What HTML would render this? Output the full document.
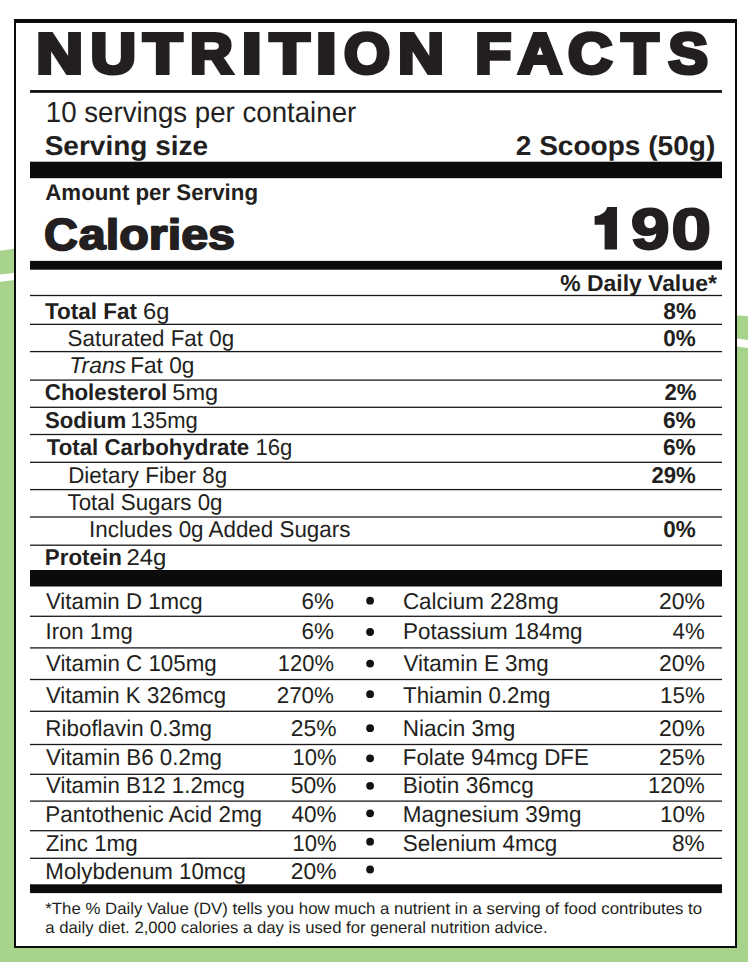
<!DOCTYPE html>
<html><head><meta charset="utf-8"><title>Nutrition Facts</title>
<style>
html,body{margin:0;padding:0;background:#fff;}
body{width:748px;height:962px;overflow:hidden;position:relative;font-family:"Liberation Sans",sans-serif;}
svg{position:absolute;left:0;top:0;}
</style></head><body>
<svg width="748" height="962" viewBox="0 0 748 962">
<polygon fill="#a8d38d" points="0,250.65 14,248.8 14,273 0,274.6"/>
<polygon fill="#a8d38d" points="0,281.8 14,280 14,962 0,962"/>
<polygon fill="#a8d38d" points="737,315.3 748,316.2 748,340 737,338.6"/>
<polygon fill="#a8d38d" points="737,346.6 748,348 748,962 737,962"/>
<rect x="0" y="947" width="748" height="15" fill="#a8d38d"/>
<rect x="14" y="19" width="723" height="929" fill="#0b0b0b"/>
<rect x="16" y="23" width="719" height="923" fill="#fff"/>
<rect x="30" y="90.1" width="692" height="2.7" fill="#0b0b0b"/><rect x="30" y="161.7" width="692" height="16.5" fill="#0b0b0b"/><rect x="30" y="260.9" width="692" height="8.8" fill="#0b0b0b"/><rect x="30" y="294.85" width="692" height="1.3" fill="#1c191a"/><rect x="30" y="323.70000000000005" width="692" height="1.3" fill="#1c191a"/><rect x="30" y="350.95000000000005" width="692" height="1.3" fill="#1c191a"/><rect x="30" y="379.45000000000005" width="692" height="1.3" fill="#1c191a"/><rect x="30" y="406.65000000000003" width="692" height="1.3" fill="#1c191a"/><rect x="30" y="433.85" width="692" height="1.3" fill="#1c191a"/><rect x="30" y="461.65000000000003" width="692" height="1.3" fill="#1c191a"/><rect x="30" y="488.95000000000005" width="692" height="1.3" fill="#1c191a"/><rect x="30" y="516.35" width="692" height="1.3" fill="#1c191a"/><rect x="30" y="544.5500000000001" width="692" height="1.3" fill="#1c191a"/><rect x="30" y="570" width="692" height="16.5" fill="#0b0b0b"/><rect x="30" y="615.65" width="692" height="1.3" fill="#1c191a"/><rect x="30" y="647.25" width="692" height="1.3" fill="#1c191a"/><rect x="30" y="678.85" width="692" height="1.3" fill="#1c191a"/><rect x="30" y="710.65" width="692" height="1.3" fill="#1c191a"/><rect x="30" y="743.85" width="692" height="1.3" fill="#1c191a"/><rect x="30" y="773.65" width="692" height="1.3" fill="#1c191a"/><rect x="30" y="800.45" width="692" height="1.3" fill="#1c191a"/><rect x="30" y="830.0500000000001" width="692" height="1.3" fill="#1c191a"/><rect x="30" y="857.65" width="692" height="1.3" fill="#1c191a"/><rect x="30" y="884.3" width="692" height="8.8" fill="#0b0b0b"/><circle cx="370.1" cy="600.7" r="3.9" fill="#141213"/><circle cx="370.1" cy="632.0" r="3.9" fill="#141213"/><circle cx="370.1" cy="663.6" r="3.9" fill="#141213"/><circle cx="370.1" cy="694.2" r="3.9" fill="#141213"/><circle cx="370.1" cy="728.2" r="3.9" fill="#141213"/><circle cx="370.1" cy="758.3" r="3.9" fill="#141213"/><circle cx="370.1" cy="785.8" r="3.9" fill="#141213"/><circle cx="370.1" cy="813.3" r="3.9" fill="#141213"/><circle cx="370.1" cy="841.7" r="3.9" fill="#141213"/><circle cx="370.1" cy="869.5" r="3.9" fill="#141213"/>
<path fill="#231f20" d="M607.3,207.1 L617,207.1 L617,249.6 L604.6,249.6 L604.6,224.7 L594.6,224.7 L594.6,216.3 Q605,215 607.3,207.1 Z"/>
<g font-family="Liberation Sans" fill="#231f20" text-rendering="geometricPrecision">
<text transform="translate(36.32 72.9) scale(1.1405 1)" font-size="56.8" font-weight="700" stroke="#231f20" stroke-width="4" stroke-linejoin="miter" stroke-miterlimit="3">N</text>
<text transform="translate(90.42 72.9) scale(1.1097 1)" font-size="56.8" font-weight="700" stroke="#231f20" stroke-width="4" stroke-linejoin="miter" stroke-miterlimit="3">U</text>
<text transform="translate(143.32 72.9) scale(1.1216 1)" font-size="56.8" font-weight="700" stroke="#231f20" stroke-width="4" stroke-linejoin="miter" stroke-miterlimit="3">T</text>
<text transform="translate(189.91 72.9) scale(1.0441 1)" font-size="56.8" font-weight="700" stroke="#231f20" stroke-width="4" stroke-linejoin="miter" stroke-miterlimit="3">R</text>
<text transform="translate(241.66 72.9) scale(1.2687 1)" font-size="56.8" font-weight="700" stroke="#231f20" stroke-width="4" stroke-linejoin="miter" stroke-miterlimit="3">I</text>
<text transform="translate(269.75 72.9) scale(1.1457 1)" font-size="56.8" font-weight="700" stroke="#231f20" stroke-width="4" stroke-linejoin="miter" stroke-miterlimit="3">T</text>
<text transform="translate(315.83 72.9) scale(1.3355 1)" font-size="56.8" font-weight="700" stroke="#231f20" stroke-width="4" stroke-linejoin="miter" stroke-miterlimit="3">I</text>
<text transform="translate(344.02 72.9) scale(1.0422 1)" font-size="56.8" font-weight="700" stroke="#231f20" stroke-width="4" stroke-linejoin="miter" stroke-miterlimit="3">O</text>
<text transform="translate(398.06 72.9) scale(1.1216 1)" font-size="56.8" font-weight="700" stroke="#231f20" stroke-width="4" stroke-linejoin="miter" stroke-miterlimit="3">N</text>
<text transform="translate(475.32 72.9) scale(1.0400 1)" font-size="56.8" font-weight="700" stroke="#231f20" stroke-width="4" stroke-linejoin="miter" stroke-miterlimit="3">F</text>
<text transform="translate(518.05 72.9) scale(1.0702 1)" font-size="56.8" font-weight="700" stroke="#231f20" stroke-width="4" stroke-linejoin="miter" stroke-miterlimit="3">A</text>
<text transform="translate(567.91 72.9) scale(1.0769 1)" font-size="56.8" font-weight="700" stroke="#231f20" stroke-width="4" stroke-linejoin="miter" stroke-miterlimit="3">C</text>
<text transform="translate(621.45 72.9) scale(1.0654 1)" font-size="56.8" font-weight="700" stroke="#231f20" stroke-width="4" stroke-linejoin="miter" stroke-miterlimit="3">T</text>
<text transform="translate(668.47 72.9) scale(1.0401 1)" font-size="56.8" font-weight="700" stroke="#231f20" stroke-width="4" stroke-linejoin="miter" stroke-miterlimit="3">S</text>
<text transform="translate(45.82 122.4) scale(0.9532 1)" font-size="29">10 servings per container</text>
<text transform="translate(44.70 154.5) scale(1.0298 1)" font-size="27.2" font-weight="700">Serving size</text>
<text transform="translate(515.78 154.5) scale(1.0315 1)" font-size="27.2" font-weight="700">2 Scoops (50g)</text>
<text transform="translate(45.28 200) scale(0.9810 1)" font-size="22.7" font-weight="700">Amount per Serving</text>
<text transform="translate(44.04 249.9) scale(1.0435 1)" font-size="45" font-weight="700" stroke="#231f20" stroke-width="1.8" stroke-linejoin="round" stroke-miterlimit="3">C</text>
<text transform="translate(78.83 249.4) scale(1.1427 1)" font-size="42.4" font-weight="700" stroke="#231f20" stroke-width="1.8" stroke-linejoin="round" stroke-miterlimit="3">alories</text>
<text transform="translate(630.69 248.7) scale(1.2067 1)" font-size="58.2" font-weight="700" stroke="#231f20" stroke-width="2.0" stroke-linejoin="miter" stroke-miterlimit="3">9</text>
<text transform="translate(671.16 248.7) scale(1.2334 1)" font-size="58.2" font-weight="700" stroke="#231f20" stroke-width="2.0" stroke-linejoin="miter" stroke-miterlimit="3">0</text>
<text transform="translate(560.28 291) scale(0.9958 1)" font-size="23" font-weight="700">% Daily Value*</text>
<text transform="translate(44.99 318.75) scale(0.9825 1)" font-size="22.9" font-weight="700">Total Fat</text>
<text transform="translate(143.01 318.75) scale(1.0369 1)" font-size="22.9">6g</text>
<text transform="translate(663.26 318.75) scale(0.9929 1)" font-size="22.9" font-weight="700">8%</text>
<text transform="translate(67.61 345.5) scale(0.9762 1)" font-size="22.9">Saturated Fat 0g</text>
<text transform="translate(663.33 345.5) scale(0.9814 1)" font-size="22.9" font-weight="700">0%</text>
<text transform="translate(69.36 372.7) scale(0.9964 1)" font-size="22.9" font-style="italic">Trans</text>
<text transform="translate(130.14 372.7) scale(0.9893 1)" font-size="22.9">Fat 0g</text>
<text transform="translate(44.81 399.9) scale(0.9723 1)" font-size="22.9" font-weight="700">Cholesterol</text>
<text transform="translate(172.31 399.9) scale(1.0298 1)" font-size="22.9">5mg</text>
<text transform="translate(664.49 399.9) scale(0.9674 1)" font-size="22.9" font-weight="700">2%</text>
<text transform="translate(44.88 427.5) scale(0.9709 1)" font-size="22.9" font-weight="700">Sodium</text>
<text transform="translate(130.52 427.5) scale(0.9611 1)" font-size="22.9">135mg</text>
<text transform="translate(662.95 427.5) scale(0.9930 1)" font-size="22.9" font-weight="700">6%</text>
<text transform="translate(46.69 454.5) scale(0.9731 1)" font-size="22.9" font-weight="700">Total Carbohydrate</text>
<text transform="translate(255.52 454.5) scale(0.9647 1)" font-size="22.9">16g</text>
<text transform="translate(662.95 454.5) scale(0.9930 1)" font-size="22.9" font-weight="700">6%</text>
<text transform="translate(68.22 483.0) scale(0.9764 1)" font-size="22.9">Dietary Fiber 8g</text>
<text transform="translate(651.39 483.0) scale(0.9687 1)" font-size="22.9" font-weight="700">29%</text>
<text transform="translate(67.48 509.5) scale(0.9745 1)" font-size="22.9">Total Sugars 0g</text>
<text transform="translate(89.04 537.0) scale(0.9779 1)" font-size="22.9">Includes 0g Added Sugars</text>
<text transform="translate(663.33 537.0) scale(0.9814 1)" font-size="22.9" font-weight="700">0%</text>
<text transform="translate(44.87 564.9) scale(0.9757 1)" font-size="22.9" font-weight="700">Protein</text>
<text transform="translate(126.39 564.9) scale(1.0469 1)" font-size="22.9">24g</text>
<text transform="translate(45.92 608.5) scale(0.9725 1)" font-size="22.9">Vitamin D 1mcg</text>
<text transform="translate(301.48 608.5) scale(0.9803 1)" font-size="22.9">6%</text>
<text transform="translate(45.56 638.7) scale(0.9657 1)" font-size="22.9">Iron 1mg</text>
<text transform="translate(301.48 638.7) scale(0.9803 1)" font-size="22.9">6%</text>
<text transform="translate(45.92 670.6) scale(0.9747 1)" font-size="22.9">Vitamin C 105mg</text>
<text transform="translate(277.83 670.6) scale(0.9580 1)" font-size="22.9">120%</text>
<text transform="translate(45.92 703.2) scale(0.9717 1)" font-size="22.9">Vitamin K 326mcg</text>
<text transform="translate(276.68 703.2) scale(0.9778 1)" font-size="22.9">270%</text>
<text transform="translate(45.36 735.6) scale(0.9777 1)" font-size="22.9">Riboflavin 0.3mg</text>
<text transform="translate(290.76 735.6) scale(0.9980 1)" font-size="22.9">25%</text>
<text transform="translate(46.02 765.1) scale(0.9760 1)" font-size="22.9">Vitamin B6 0.2mg</text>
<text transform="translate(292.42 765.1) scale(0.9609 1)" font-size="22.9">10%</text>
<text transform="translate(46.02 792.8) scale(0.9728 1)" font-size="22.9">Vitamin B12 1.2mcg</text>
<text transform="translate(290.65 792.8) scale(1.0004 1)" font-size="22.9">50%</text>
<text transform="translate(45.36 822.0) scale(0.9788 1)" font-size="22.9">Pantothenic Acid 2mg</text>
<text transform="translate(291.44 822.0) scale(0.9829 1)" font-size="22.9">40%</text>
<text transform="translate(45.70 850.5) scale(0.9765 1)" font-size="22.9">Zinc 1mg</text>
<text transform="translate(292.42 850.5) scale(0.9609 1)" font-size="22.9">10%</text>
<text transform="translate(45.37 878.7) scale(0.9729 1)" font-size="22.9">Molybdenum 10mcg</text>
<text transform="translate(290.76 878.7) scale(0.9980 1)" font-size="22.9">20%</text>
<text transform="translate(402.88 608.5) scale(0.9796 1)" font-size="22.9">Calcium 228mg</text>
<text transform="translate(658.95 608.5) scale(1.0026 1)" font-size="22.9">20%</text>
<text transform="translate(402.96 638.7) scale(0.9805 1)" font-size="22.9">Potassium 184mg</text>
<text transform="translate(672.54 638.7) scale(0.9721 1)" font-size="22.9">4%</text>
<text transform="translate(403.42 670.6) scale(0.9787 1)" font-size="22.9">Vitamin E 3mg</text>
<text transform="translate(658.95 670.6) scale(1.0026 1)" font-size="22.9">20%</text>
<text transform="translate(403.08 703.2) scale(0.9734 1)" font-size="22.9">Thiamin 0.2mg</text>
<text transform="translate(660.09 703.2) scale(0.9771 1)" font-size="22.9">15%</text>
<text transform="translate(402.75 735.6) scale(0.9835 1)" font-size="22.9">Niacin 3mg</text>
<text transform="translate(658.95 735.6) scale(1.0026 1)" font-size="22.9">20%</text>
<text transform="translate(402.77 765.1) scale(0.9753 1)" font-size="22.9">Folate 94mcg DFE</text>
<text transform="translate(658.95 765.1) scale(1.0026 1)" font-size="22.9">25%</text>
<text transform="translate(402.74 792.8) scale(0.9899 1)" font-size="22.9">Biotin 36mcg</text>
<text transform="translate(648.01 792.8) scale(0.9687 1)" font-size="22.9">120%</text>
<text transform="translate(402.75 822.0) scale(0.9829 1)" font-size="22.9">Magnesium 39mg</text>
<text transform="translate(660.09 822.0) scale(0.9771 1)" font-size="22.9">10%</text>
<text transform="translate(402.81 850.5) scale(0.9793 1)" font-size="22.9">Selenium 4mcg</text>
<text transform="translate(671.95 850.5) scale(0.9903 1)" font-size="22.9">8%</text>
<text transform="translate(45.29 913.6) scale(1.0246 1)" font-size="16.4">*The % Daily Value (DV) tells you how much a nutrient in a serving of food contributes to</text>
<text transform="translate(45.25 932.9) scale(1.0190 1)" font-size="16.4">a daily diet. 2,000 calories a day is used for general nutrition advice.</text>
</g>
</svg>
</body></html>
